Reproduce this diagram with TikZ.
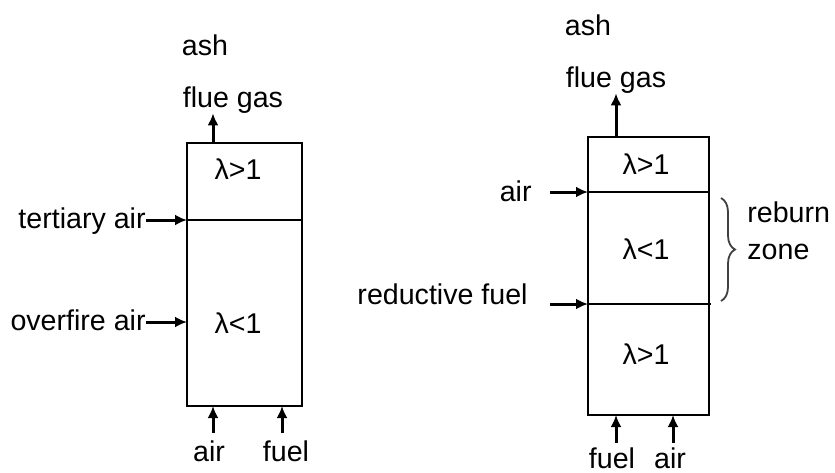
\documentclass[tikz,border=0pt]{standalone}
\usepackage{fontspec}
\setmainfont{Liberation Sans}
\usetikzlibrary{arrows.meta,decorations.pathreplacing,positioning}

\tikzset{
  lbl/.style={inner sep=0pt, anchor=base, font=\fontsize{14.3}{18.5}\selectfont},
  feed/.style={line width=1.5pt, -{Latex[length=6pt,width=5.5pt]}},
  wall/.style={line width=0.9pt}
}

\begin{document}
\begin{tikzpicture}[x=0.5pt,y=-0.5pt]
  \useasboundingbox (0,0) rectangle (835,472);

  % left: staged air
  \draw[wall] (187,143) rectangle (302,406);
  \draw[wall] (187,220) -- (302,220);
  \node[lbl] (lash) at (205,55) {ash};
  \node[lbl] (lgas) at (233,107) {flue gas};
  \node[lbl] (lhi) at (238,179) {λ>1};
  \node[lbl] (llo) at (238,333) {λ<1};
  \node[lbl, anchor=base east] (ltert) at (146,228) {tertiary air};
  \node[lbl, anchor=base east] (lover) at (146,330) {overfire air};
  \node[lbl] (lair) at (209,461) {air};
  \node[lbl] (lfuel) at (286,461) {fuel};

  \coordinate (lout) at (213,143);
  \coordinate (ltin) at (187,220);
  \coordinate (loin) at (187,322);
  \coordinate (lain) at (213,406);
  \coordinate (lfin) at (282,406);
  \coordinate (labot) at (213,433);
  \coordinate (lfbot) at (282,433);

  \draw[feed] (lout) -- (lgas.south -| lout);
  \draw[feed] (ltert.east |- ltin) -- (ltin);
  \draw[feed] (lover.east |- loin) -- (loin);
  \draw[feed] (labot) -- (lain);
  \draw[feed] (lfbot) -- (lfin);

  % right: reburning
  \draw[wall] (588,137) rectangle (709,415);
  \draw[wall] (588,192) -- (709,192);
  \draw[wall] (588,304) -- (711,304);
  \node[lbl] (rash) at (588,35) {ash};
  \node[lbl] (rgas) at (616,87) {flue gas};
  \node[lbl] (rhi) at (646,174) {λ>1};
  \node[lbl] (rlo) at (646,259) {λ<1};
  \node[lbl] (rbot) at (646,364) {λ>1};
  \node[lbl, anchor=base east] (rair) at (532,201) {air};
  \node[lbl, anchor=base east] (rred) at (528,304) {reductive fuel};
  \node[lbl] (rfuel) at (612,468) {fuel};
  \node[lbl] (rair2) at (670,468) {air};
  \node[lbl, anchor=base west, align=left] (rzone) at (747,259) {reburn\\zone};

  \coordinate (rout) at (616,137);
  \coordinate (rain) at (588,192);
  \coordinate (rrin) at (588,304);
  \coordinate (rastart) at (550,192);
  \coordinate (rrstart) at (550,304);
  \coordinate (rfin) at (616,415);
  \coordinate (rain2) at (673,415);
  \coordinate (rfbot) at (616,443);
  \coordinate (rabot) at (673,443);

  \draw[feed] (rout) -- (rgas.south -| rout);
  \draw[feed] (rastart) -- (rain);
  \draw[feed] (rrstart) -- (rrin);
  \draw[feed] (rfbot) -- (rfin);
  \draw[feed] (rabot) -- (rain2);

  \draw[wall, black!75, decorate, decoration={brace, amplitude=7pt}] (721,198) -- (721,301);
\end{tikzpicture}
\end{document}
